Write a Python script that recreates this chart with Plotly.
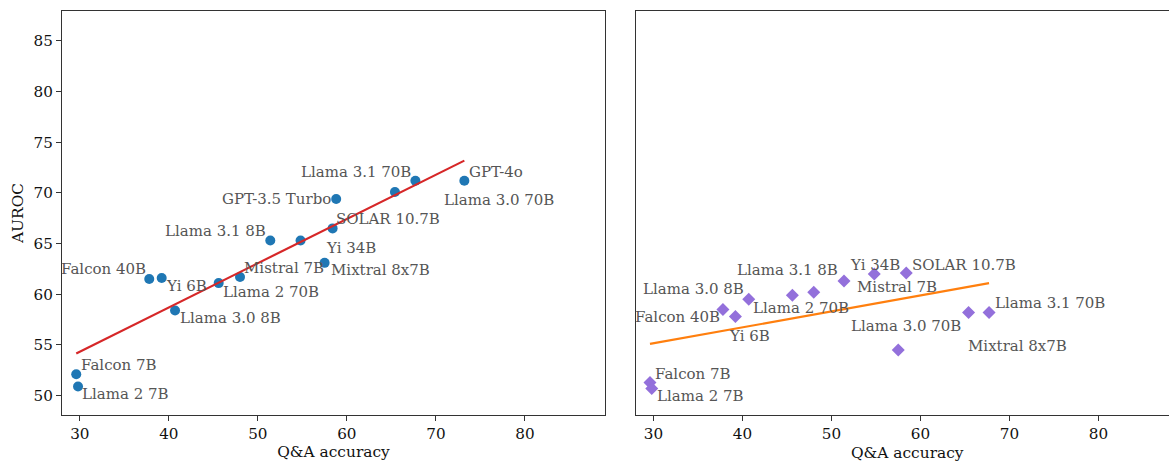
import numpy as np
import plotly.graph_objects as go

# ---------------- data ----------------
models_left = ["Falcon 7B", "Llama 2 7B", "Falcon 40B", "Yi 6B", "Llama 3.0 8B",
               "Llama 2 70B", "Mistral 7B", "Llama 3.1 8B", "Yi 34B", "Mixtral 8x7B",
               "SOLAR 10.7B", "GPT-3.5 Turbo", "Llama 3.0 70B", "Llama 3.1 70B", "GPT-4o"]
qa_left = [29.6, 29.8, 37.8, 39.2, 40.7, 45.6, 48.0, 51.4, 54.8, 57.5,
           58.4, 58.8, 65.4, 67.7, 73.2]
auroc_left = [52.1, 50.9, 61.5, 61.6, 58.4, 61.1, 61.7, 65.3, 65.3, 63.1,
              66.5, 69.4, 70.1, 71.2, 71.2]

models_right = ["Falcon 7B", "Llama 2 7B", "Falcon 40B", "Yi 6B", "Llama 3.0 8B",
                "Llama 2 70B", "Mistral 7B", "Llama 3.1 8B", "Yi 34B", "Mixtral 8x7B",
                "SOLAR 10.7B", "Llama 3.0 70B", "Llama 3.1 70B"]
qa_right = [29.6, 29.8, 37.8, 39.2, 40.7, 45.6, 48.0, 51.4, 54.8, 57.5,
            58.4, 65.4, 67.7]
auroc_right = [51.3, 50.7, 58.5, 57.8, 59.5, 59.9, 60.2, 61.3, 62.0, 54.5,
               62.1, 58.2, 58.2]

x_ticks = [30, 40, 50, 60, 70, 80]
y_ticks = [50, 55, 60, 65, 70, 75, 80, 85]

# label placement styles (anchor, pixel shift x, pixel shift y)
label_style_left = {
    "Falcon 7B": ("left", 2.6, 9.3), "Llama 2 7B": ("left", 2.4, -7.6),
    "Falcon 40B": ("right", -1, 9.7), "Yi 6B": ("left", 2.3, -8),
    "Llama 3.0 8B": ("left", 3.3, -7.3), "Llama 2 70B": ("left", 2.7, -8.4),
    "Mistral 7B": ("left", 1.7, 9.4), "Llama 3.1 8B": ("right", -2.7, 9.4),
    "Yi 34B": ("left", 23.3, -7), "Mixtral 8x7B": ("left", 4, -7.3),
    "SOLAR 10.7B": ("left", 1.6, 9.7), "GPT-3.5 Turbo": ("right", -2.7, 0),
    "Llama 3.0 70B": ("left", 47, -7.7), "Llama 3.1 70B": ("right", -2.4, 8.7),
    "GPT-4o": ("left", 2.4, 8.7),
}
label_style_right = {
    "Falcon 7B": ("left", 2.7, 8.7), "Llama 2 7B": ("left", 3.3, -7.4),
    "Falcon 40B": ("right", -0.6, -8), "Yi 6B": ("left", -8.6, -19),
    "Llama 3.0 8B": ("right", -2.3, 10.3), "Llama 2 70B": ("left", -41.6, -12.6),
    "Mistral 7B": ("left", 41, 5.6), "Llama 3.1 8B": ("right", -4.2, 11),
    "Yi 34B": ("center", 0.4, 9.3), "SOLAR 10.7B": ("left", 4, 8.3),
    "Llama 3.1 70B": ("left", 3.7, 9.3), "Llama 3.0 70B": ("right", -6.0, -14),
    "Mixtral 8x7B": ("left", 68, 4.3),
}

FONT = "DejaVu Serif"
AXCOL = "#333333"
W, H = 1169, 461
FS_TICK = 15.2
FS_TEXT = 15.0
FS_TITLE = 15.4

fig = go.Figure()

# ---------------- left panel ----------------
fig.add_trace(go.Scatter(x=qa_left, y=auroc_left, mode="markers",
                         marker=dict(color="#1f77b4", size=10, symbol="circle"),
                         xaxis="x", yaxis="y", showlegend=False, hoverinfo="skip"))
cl = np.polyfit(qa_left, auroc_left, 1)
xl = np.array([min(qa_left), max(qa_left)])
fig.add_trace(go.Scatter(x=xl, y=np.polyval(cl, xl), mode="lines",
                         line=dict(color="#d62728", width=2.2),
                         xaxis="x", yaxis="y", showlegend=False, hoverinfo="skip"))

# ---------------- right panel ----------------
fig.add_trace(go.Scatter(x=qa_right, y=auroc_right, mode="markers",
                         marker=dict(color="#9370DB", size=10, symbol="diamond"),
                         xaxis="x2", yaxis="y2", showlegend=False, hoverinfo="skip"))
cr = np.polyfit(qa_right, auroc_right, 1)
xr = np.array([min(qa_right), max(qa_right)])
fig.add_trace(go.Scatter(x=xr, y=np.polyval(cr, xr), mode="lines",
                         line=dict(color="#ff7f0e", width=2.2),
                         xaxis="x2", yaxis="y2", showlegend=False, hoverinfo="skip"))

annotations = []
for m, xv, yv in zip(models_left, qa_left, auroc_left):
    anc, dx, dy = label_style_left[m]
    annotations.append(dict(x=xv, y=yv, xref="x", yref="y", text=m, showarrow=False,
                            xanchor=anc, yanchor="middle", xshift=dx, yshift=dy,
                            font=dict(family=FONT, size=FS_TEXT, color="#555555")))
for m, xv, yv in zip(models_right, qa_right, auroc_right):
    anc, dx, dy = label_style_right[m]
    annotations.append(dict(x=xv, y=yv, xref="x2", yref="y2", text=m, showarrow=False,
                            xanchor=anc, yanchor="middle", xshift=dx, yshift=dy,
                            font=dict(family=FONT, size=FS_TEXT, color="#555555")))

# right panel x title: centred on the full (partly cropped) panel width
annotations.append(dict(x=(636 + 543 / 2) / W, y=0, xref="paper", yref="paper",
                        text="Q&A accuracy", showarrow=False, xanchor="center",
                        yanchor="middle", yshift=8,
                        font=dict(family=FONT, size=FS_TITLE, color="#111111")))

axis_common = dict(showline=True, linecolor=AXCOL, linewidth=1.1, showgrid=False,
                   zeroline=False, ticks="outside", ticklen=5, tickwidth=1.1,
                   tickcolor=AXCOL, tickfont=dict(family=FONT, size=FS_TICK, color="#111111"))

fig.update_layout(
    width=W, height=H,
    margin=dict(l=0, r=0, t=0, b=0),
    paper_bgcolor="white", plot_bgcolor="white",
    font=dict(family=FONT, size=FS_TICK, color="#111111"),
    annotations=annotations,
    xaxis=dict(domain=[62 / W, 605 / W], range=[28.0, 89.0], tickvals=x_ticks,
               mirror=True, anchor="y",
               title=dict(text="Q&A accuracy", font=dict(family=FONT, size=FS_TITLE), standoff=4),
               **axis_common),
    yaxis=dict(domain=[1 - 415 / H, 1 - 11 / H], range=[48.08, 87.96], tickvals=y_ticks,
               mirror=True, anchor="x",
               title=dict(text="AUROC", font=dict(family=FONT, size=FS_TITLE), standoff=6),
               **axis_common),
    xaxis2=dict(domain=[636 / W, 1.0], range=[28.03, 87.92], tickvals=x_ticks,
                mirror=True, anchor="y2", **axis_common),
    yaxis2=dict(domain=[1 - 415 / H, 1 - 11 / H], range=[48.08, 87.96],
                showline=True, linecolor=AXCOL, linewidth=1.1, showgrid=False,
                zeroline=False, ticks="", showticklabels=False, anchor="x2"),
)

fig.write_html("out.html")
